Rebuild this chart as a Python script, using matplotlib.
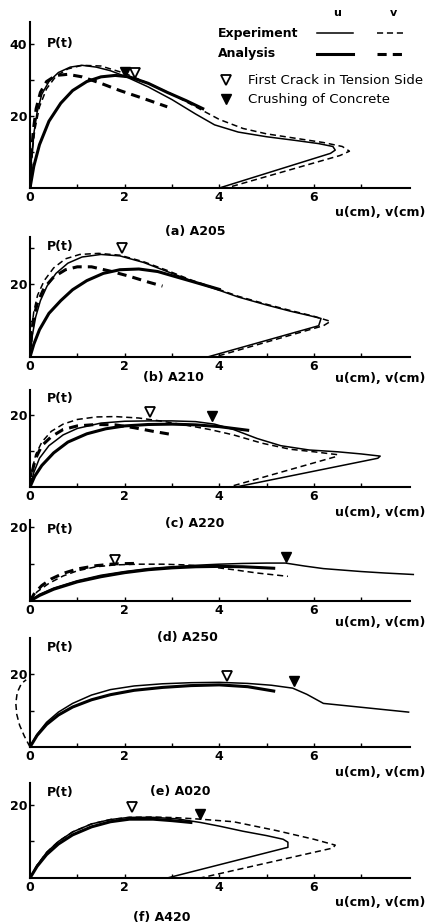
import matplotlib
matplotlib.use("Agg")
import matplotlib.pyplot as plt
import matplotlib.transforms as mtransforms
from matplotlib.lines import Line2D

plt.rcParams['font.family'] = ['DejaVu Sans']

# ---- data: load P(t) vs displacement u, v (cm)
# (a) A205
a_exp_u_x = [0, 0.03, 0.08, 0.15, 0.25, 0.4, 0.6, 0.85, 1.1, 1.4, 1.7, 2.0, 2.5, 3.0, 3.5, 3.9, 4.4, 5.0, 5.6, 6.1, 6.4, 6.45, 6.35, 4.0]
a_exp_u_y = [0, 8, 15, 21, 26, 29.5, 32, 33.5, 34, 33.5, 32.5, 31, 28, 24.5, 20.5, 17.5, 15.5, 14.2, 13.2, 12.3, 11.5, 10.5, 9.6, 0]
a_exp_v_x = [0, 0.04, 0.1, 0.2, 0.35, 0.55, 0.8, 1.1, 1.5, 2.0, 2.5, 3.0, 3.5, 4.0, 4.5, 5.0, 5.6, 6.2, 6.6, 6.75, 6.55, 4.15]
a_exp_v_y = [0, 9, 16, 22.5, 27.5, 31, 33, 34, 33.8, 31.8, 29, 26, 22.5, 19, 16.5, 15, 13.8, 12.6, 11.5, 10.2, 9, 0]
a_ana_u_x = [0, 0.08, 0.2, 0.4, 0.65, 0.9, 1.2, 1.5, 1.8, 2.1, 2.5, 2.9, 3.3, 3.65]
a_ana_u_y = [0, 6, 12, 18.5, 23.5, 27, 29.5, 30.8, 31.2, 30.8, 29, 26.5, 24.2, 22]
a_ana_v_x = [0, 0.03, 0.07, 0.13, 0.22, 0.35, 0.55, 0.8, 1.1, 1.5, 1.9, 2.4, 2.9]
a_ana_v_y = [0, 9, 16, 22, 26.5, 29.5, 31.2, 31.5, 30.8, 29, 27, 24.8, 22.5]
a_crack = [2.22, 32.0]
a_crush = [2.0, 32.2]

# (b) A210
b_exp_u_x = [0, 0.05, 0.12, 0.22, 0.36, 0.55, 0.8, 1.1, 1.5, 1.9, 2.4, 2.9, 3.4, 3.9, 4.4, 5.0, 5.5, 5.9, 6.15, 6.1, 3.75]
b_exp_u_y = [0, 6, 11, 15.5, 19.5, 23, 25.8, 27.5, 28.2, 27.8, 26, 23.5, 21, 18.8, 16.5, 14.3, 12.6, 11.4, 10.6, 8.6, 0]
b_exp_v_x = [0, 0.03, 0.08, 0.16, 0.3, 0.5, 0.75, 1.05, 1.45, 1.9, 2.4, 2.9, 3.4, 3.9, 4.4, 5.0, 5.5, 6.0, 6.35, 6.2, 3.9]
b_exp_v_y = [0, 7, 12.5, 17, 21, 24.5, 27, 28.2, 28.5, 28, 26.2, 23.8, 21.2, 19, 16.7, 14.5, 12.8, 11.2, 9.8, 8.6, 0]
b_ana_u_x = [0, 0.08, 0.2, 0.4, 0.65, 0.9, 1.2, 1.55, 1.9, 2.3, 2.7, 3.1, 3.5, 4.0]
b_ana_u_y = [0, 3.5, 7.5, 12, 15.5, 18.5, 21, 23, 24, 24.2, 23.5, 22, 20.5, 18.6]
b_ana_v_x = [0, 0.03, 0.08, 0.16, 0.3, 0.5, 0.75, 1.0, 1.3, 1.7, 2.1, 2.5, 2.8]
b_ana_v_y = [0, 6, 11, 15, 19, 22, 24, 24.8, 24.8, 23.6, 22.2, 20.6, 19.5]
b_crack = [1.94, 30.0]

# (c) A220
c_exp_u_x = [0, 0.08, 0.2, 0.4, 0.7, 1.0, 1.5, 2.0, 2.5, 3.0, 3.5, 3.9, 4.3, 4.8, 5.3, 5.9, 6.5, 7.0, 7.4, 7.35, 4.35]
c_exp_u_y = [0, 4, 8, 11.5, 14.5, 16.3, 17.8, 18.3, 18.4, 18.4, 18.2, 17.5, 16, 13.5, 11.5, 10.3, 9.8, 9.2, 8.6, 8.0, 0]
c_exp_v_x = [0, 0.05, 0.12, 0.25, 0.45, 0.7, 1.0, 1.4, 1.8, 2.3, 2.8, 3.3, 3.8, 4.3, 4.9, 5.5, 6.0, 6.5, 6.45, 4.2]
c_exp_v_y = [0, 5, 9, 12.5, 15.5, 17.5, 18.8, 19.5, 19.6, 19.2, 18.3, 17.2, 16, 14.5, 12.2, 10.5, 9.8, 9.0, 8.4, 0]
c_ana_u_x = [0, 0.1, 0.25, 0.5, 0.8, 1.2, 1.6, 2.0, 2.5, 3.0, 3.5, 4.0, 4.6]
c_ana_u_y = [0, 3, 6, 9.5, 12.5, 14.8, 16.2, 17, 17.4, 17.5, 17.3, 16.8, 15.8]
c_ana_v_x = [0, 0.05, 0.12, 0.25, 0.45, 0.7, 1.0, 1.4, 1.8, 2.2, 2.6, 3.0]
c_ana_v_y = [0, 4.5, 8, 11.5, 14, 16, 17, 17.4, 17.3, 16.5, 15.5, 14.6]
c_crack = [2.54, 21.0]
c_crush = [3.85, 19.8]

# (d) A250
d_exp_u_x = [0, 0.2, 0.5, 1.0, 1.5, 2.0, 2.5, 3.0, 3.5, 4.0, 4.5, 5.0, 5.4, 5.8, 6.2, 6.6, 7.0, 7.5, 8.1]
d_exp_u_y = [0, 1.8, 3.5, 5.5, 7, 8, 8.8, 9.3, 9.7, 10, 10.2, 10.3, 10.3, 9.5, 8.8, 8.4, 8.0, 7.6, 7.2]
d_exp_v_x = [0, 0.15, 0.4, 0.7, 1.0, 1.4, 1.8, 2.3, 2.8, 3.3, 3.8, 4.3, 4.8, 5.45]
d_exp_v_y = [0, 2.5, 4.8, 6.8, 8.2, 9.3, 9.8, 10, 10, 9.8, 9.3, 8.5, 7.6, 6.7]
d_ana_u_x = [0, 0.2, 0.5, 1.0, 1.5, 2.0, 2.5, 3.0, 3.5, 4.0, 4.5, 5.15]
d_ana_u_y = [0, 1.5, 3.2, 5.2, 6.6, 7.7, 8.5, 9.0, 9.3, 9.4, 9.3, 8.9]
d_ana_v_x = [0, 0.1, 0.25, 0.45, 0.7, 1.0, 1.4, 1.8, 2.2]
d_ana_v_y = [0, 2.2, 4.2, 6, 7.5, 8.7, 9.6, 10.1, 10.2]
d_crack = [1.8, 11.2]
d_crush = [5.4, 12.0]

# (e) A020
e_exp_u_x = [0, 0.15, 0.35, 0.6, 0.9, 1.3, 1.7, 2.2, 2.8, 3.4, 4.0, 4.6, 5.1, 5.55, 5.85, 6.2, 6.8, 7.4, 8.0]
e_exp_u_y = [0, 3.5, 6.8, 9.6, 12, 14.3, 15.8, 16.8, 17.4, 17.7, 17.8, 17.5, 17, 16.2, 14.5, 12, 11.2, 10.4, 9.6]
e_exp_v_x = [0, -0.12, -0.22, -0.28, -0.3, -0.27, -0.18, -0.08]
e_exp_v_y = [0, 3, 6, 9, 12, 15, 17.5, 18.5]
e_ana_u_x = [0, 0.15, 0.35, 0.6, 0.9, 1.3, 1.7, 2.2, 2.8, 3.4, 4.0, 4.6, 5.15]
e_ana_u_y = [0, 3.2, 6.2, 8.8, 11, 13, 14.4, 15.6, 16.4, 16.9, 17.1, 16.6, 15.4]
e_crack = [4.16, 19.5]
e_crush = [5.57, 18.3]

# (f) A420
f_exp_u_x = [0, 0.15, 0.35, 0.6, 0.9, 1.3, 1.7, 2.1, 2.6, 3.1, 3.6, 4.0, 4.5, 5.0, 5.35, 5.45, 5.45, 2.9]
f_exp_u_y = [0, 3.5, 7, 10, 12.6, 14.8, 16, 16.6, 16.6, 16.2, 15.2, 14.2, 12.8, 11.6, 10.6, 9.8, 8.4, 0]
f_exp_v_x = [0, 0.15, 0.35, 0.6, 0.9, 1.3, 1.7, 2.1, 2.6, 3.1, 3.6, 4.3, 5.2, 6.0, 6.45, 6.4, 3.6]
f_exp_v_y = [0, 3.5, 7, 10, 12.6, 14.8, 16, 16.6, 16.7, 16.5, 16.1, 15.4, 13.0, 10.6, 9.0, 8.2, 0]
f_ana_u_x = [0, 0.15, 0.35, 0.6, 0.9, 1.3, 1.7, 2.1, 2.6, 3.0, 3.4]
f_ana_u_y = [0, 3.2, 6.4, 9.3, 11.8, 14, 15.4, 16.1, 16.1, 15.7, 15.2]
f_crack = [2.15, 19.5]
f_crush = [3.6, 17.5]

titles = ['(a) A205', '(b) A210', '(c) A220', '(d) A250', '(e) A020', '(f) A420']
x_ticks = [0, 1, 2, 3, 4, 5, 6, 7]
x_tick_labels = ['0', '', '2', '', '4', '', '6', '']

# ---- layout in pixels of the 427x923 image
W, H = 427, 923
# baseline y, top y, ymax, title centre x, title y, xlabel y
layout = [
    (188, 22, 46, 195, 232, 212),
    (357, 237, 33, 173, 377, 378),
    (487, 390, 27, 195, 523, 512),
    (601, 520, 22, 187, 638, 622),
    (747, 638, 30, 180, 792, 772),
    (878, 783, 26, 162, 917, 902),
]
y_ticks = [[10, 20, 30, 40], [10, 20, 30], [10, 20], [10, 20], [10, 20], [10, 20]]

panels = [
    (a_exp_u_x, a_exp_u_y, a_exp_v_x, a_exp_v_y, a_ana_u_x, a_ana_u_y, a_ana_v_x, a_ana_v_y, a_crack, a_crush),
    (b_exp_u_x, b_exp_u_y, b_exp_v_x, b_exp_v_y, b_ana_u_x, b_ana_u_y, b_ana_v_x, b_ana_v_y, b_crack, None),
    (c_exp_u_x, c_exp_u_y, c_exp_v_x, c_exp_v_y, c_ana_u_x, c_ana_u_y, c_ana_v_x, c_ana_v_y, c_crack, c_crush),
    (d_exp_u_x, d_exp_u_y, d_exp_v_x, d_exp_v_y, d_ana_u_x, d_ana_u_y, d_ana_v_x, d_ana_v_y, d_crack, d_crush),
    (e_exp_u_x, e_exp_u_y, e_exp_v_x, e_exp_v_y, e_ana_u_x, e_ana_u_y, None, None, e_crack, e_crush),
    (f_exp_u_x, f_exp_u_y, f_exp_v_x, f_exp_v_y, f_ana_u_x, f_ana_u_y, None, None, f_crack, f_crush),
]

fig = plt.figure(figsize=(W / 100, H / 100), dpi=100)

thin = 1.1
thick = 2.2
dash = (0, (4, 2.5))
thick_dash = (0, (3, 2))
x_left, x_right = 30, 410
xmax = 8.03
zero_shift = mtransforms.ScaledTranslation(-5 / 72, 0, fig.dpi_scale_trans)

for i, (base, top, ymax, tx, ty, lx) in enumerate(layout):
    ax = fig.add_axes([x_left / W, 1 - base / H, (x_right - x_left) / W, (base - top) / H])
    eu_x, eu_y, ev_x, ev_y, au_x, au_y, av_x, av_y, crack, crush = panels[i]
    ax.plot(eu_x, eu_y, color='black', lw=thin, clip_on=False)
    ax.plot(ev_x, ev_y, color='black', lw=thin, linestyle=dash, clip_on=False)
    ax.plot(au_x, au_y, color='black', lw=thick)
    if av_x is not None:
        ax.plot(av_x, av_y, color='black', lw=thick, linestyle=thick_dash)
    if crack is not None:
        ax.plot(crack[0], crack[1], marker='v', ms=7.5, mfc='white', mec='black', mew=1.3)
    if crush is not None:
        ax.plot(crush[0], crush[1], marker='v', ms=7.5, mfc='black', mec='black')

    ax.set_xlim(0, xmax)
    ax.set_ylim(0, ymax)
    for s in ['top', 'right']:
        ax.spines[s].set_visible(False)
    for s in ['left', 'bottom']:
        ax.spines[s].set_linewidth(1.5)
    ax.set_xticks(x_ticks)
    ax.set_xticklabels(x_tick_labels, fontsize=9, fontweight='bold')
    lab0 = ax.get_xticklabels()[0]
    lab0.set_transform(lab0.get_transform() + zero_shift)
    ax.set_yticks(y_ticks[i])
    ax.set_yticklabels([str(t) if t in (20, 40) else '' for t in y_ticks[i]],
                       fontsize=9, fontweight='bold')
    ax.tick_params(direction='in', length=3, width=1, pad=2)
    ax.text(0.35, ymax - 2.5 if i != 0 else 40, 'P(t)', fontsize=9, fontweight='bold',
            va='center', ha='left')

    fig.text(tx / W, 1 - ty / H, titles[i], fontsize=9, fontweight='bold', ha='center', va='center')
    fig.text(425 / W, 1 - lx / H, 'u(cm), v(cm)', fontsize=9, fontweight='bold', ha='right', va='center')

# ---- legend (drawn in pixel coordinates on an overlay)
ov = fig.add_axes([0, 0, 1, 1])
ov.set_xlim(0, W)
ov.set_ylim(H, 0)
ov.axis('off')
ov.text(337, 13, 'u', fontsize=8, fontweight='bold', ha='center', va='center')
ov.text(393, 13, 'v', fontsize=8, fontweight='bold', ha='center', va='center')
ov.text(218, 33, 'Experiment', fontsize=9, fontweight='bold', va='center')
ov.text(218, 54, 'Analysis', fontsize=9, fontweight='bold', va='center')
ov.add_line(Line2D([317, 353], [33, 33], color='black', lw=thin))
ov.add_line(Line2D([377, 405], [33, 33], color='black', lw=thin, linestyle=dash))
ov.add_line(Line2D([317, 353], [54, 54], color='black', lw=thick))
ov.add_line(Line2D([377, 405], [54, 54], color='black', lw=thick, linestyle=thick_dash))
ov.plot([226], [80], marker='v', ms=7.5, mfc='white', mec='black', mew=1.3)
ov.plot([226], [99], marker='v', ms=7.5, mfc='black', mec='black')
ov.text(248, 80, 'First Crack in Tension Side', fontsize=9.6, va='center', clip_on=True)
ov.text(248, 99, 'Crushing of Concrete', fontsize=9.6, va='center')

fig.savefig('out.png', dpi=100)
